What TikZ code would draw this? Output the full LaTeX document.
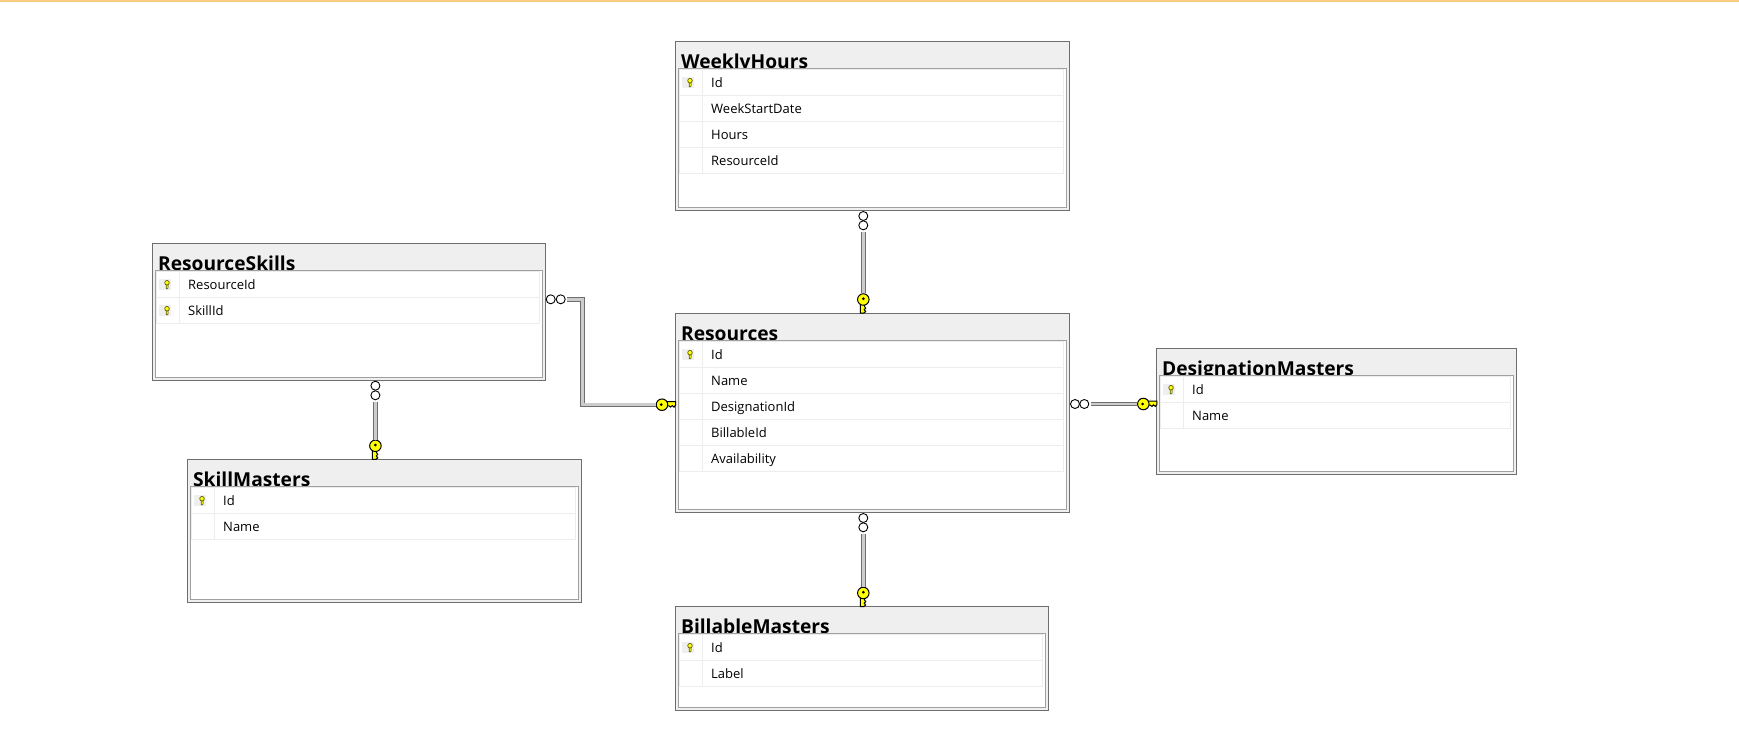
\documentclass[tikz,border=0pt]{standalone}
\usepackage{fontspec}
\setmainfont{Open Sans}
\definecolor{bandcol}{HTML}{F8CC80}
\definecolor{headcol}{HTML}{EFEFEF}
\definecolor{edgecol}{HTML}{6E6E6E}
\definecolor{innercol}{HTML}{A0A0A0}
\definecolor{gridcol}{HTML}{EDEDED}
\definecolor{keycol}{HTML}{FFFF00}
\definecolor{smallcol}{HTML}{5C5C10}
\begin{document}
\begin{tikzpicture}
[
  x=1pt,
  y=-1pt,
  tablebox/.style={draw=edgecol,fill=headcol,line width=1pt,inner sep=0pt,outer sep=0pt},
  innerbox/.style={draw=innercol,fill=white,line width=1pt,inner sep=0pt,outer sep=0pt},
  heading/.style={anchor=base west,inner sep=0pt,font=\fontsize{19.2}{24}\selectfont\bfseries},
  field/.style={anchor=base west,inner sep=0pt,font=\fontsize{13}{15}\selectfont},
  rowline/.style={draw=gridcol,line width=0.8pt},
  rel/.style={draw=edgecol,line width=0.9pt,double=gray!40,double distance=2.6pt},
  crow/.style={draw=black,fill=white,circle,line width=0.9pt,inner sep=0pt,minimum size=9pt},
  downkey/.style={rotate=-90,yscale=-1},
  pics/bigkey/.style={code={
    \draw[fill=keycol,line width=1pt] (3,-3)--(13.5,-3)--(13.5,0.6)--(12,2.4)--(10.2,0.9)--(8.6,2.4)--(7,1.2)--(3,1.2)--cycle;
    \node[circle,draw=black,fill=keycol,line width=1pt,inner sep=0pt,minimum size=11.5pt] (-head) at (0,0) {};
    \fill[black] (-0.8,0) circle (1.5pt);
  }},
  pics/smallkey/.style={code={
    \fill[headcol] (-6,-5.4) rectangle (6,5.4);
    \draw[draw=smallcol,fill=keycol,line width=0.6pt] (1.2,0)--(1.2,4.4)--(2.8,4.4)--(3.2,2.5)--(2.8,0)--cycle;
    \draw[draw=smallcol,fill=keycol,line width=0.7pt] (2,-1.6) circle (2.3pt);
  }}
]

\useasboundingbox (0,0) rectangle (1739,742);

% Top band
\fill[bandcol] (0,0) rectangle (1739,2);

% Tables
\foreach \title/\xa/\ya/\xb/\yb/\rows in {
  WeeklyHours/675.5/41.5/1069.5/210/{Id/1,WeekStartDate/0,Hours/0,ResourceId/0},
  ResourceSkills/152.5/243.5/545.5/380.5/{ResourceId/1,SkillId/1},
  SkillMasters/187.5/459.5/581.5/602.5/{Id/1,Name/0},
  Resources/675.5/313.5/1069.5/512.5/{Id/1,Name/0,DesignationId/0,BillableId/0,Availability/0},
  DesignationMasters/1156.5/348.5/1516.5/474.5/{Id/1,Name/0},
  BillableMasters/675.5/606.5/1048.5/710.5/{Id/1,Label/0}} {
  \pgfmathsetmacro{\wa}{\xb-\xa}
  \pgfmathsetmacro{\ha}{\yb-\ya}
  \node[tablebox,minimum width=\wa pt,minimum height=\ha pt] (\title) at ({(\xa+\xb)/2},{(\ya+\yb)/2}) {};
  \node[heading] (\title-head) at ({\xa+5.4},{\ya+27}) {\title};
  \pgfmathsetmacro{\wb}{\wa-6}
  \pgfmathsetmacro{\hb}{\ha-30}
  \node[innerbox,minimum width=\wb pt,minimum height=\hb pt] (\title-inner) at ({(\xa+\xb)/2},{(\ya+\yb+24)/2}) {};
  % Rows of the table
  \foreach \field/\iskey [count=\i] in \rows {
    \pgfmathsetmacro{\rt}{\ya+27.8+26*(\i-1)}
    \pgfmathsetmacro{\rb}{\rt+26}
    \draw[rowline] ({\xa+4},\rt) rectangle ({\xb-6.5},\rb);
    \draw[rowline] ({\xa+26.8},\rt) -- ({\xa+26.8},\rb);
    \node[field] (\title-row\i) at ({\xa+35.5},{\rt+18}) {\field};
    \ifnum\iskey=1
      \pic at ({\xa+12.5},{\rt+13}) {smallkey};
    \fi
  }
}

% Crow feet
\node[crow] (whc1) at (863.3,216) {};
\node[crow] (whc2) at (863.3,225.3) {};
\node[crow] (rsc1) at (550.7,299.3) {};
\node[crow] (rsc2) at (560.7,299.3) {};
\node[crow] (sc1) at (375.4,385.7) {};
\node[crow] (sc2) at (375.4,395.3) {};
\node[crow] (dc1) at (1075,404) {};
\node[crow] (dc2) at (1084.3,404) {};
\node[crow] (bc1) at (863.3,518) {};
\node[crow] (bc2) at (863.3,527.3) {};

% Keys
\pic[downkey] (wk) at (863.3,299.5) {bigkey};
\pic (rk) at (662,404.7) {bigkey};
\pic[downkey] (sk) at (375.4,445.8) {bigkey};
\pic (dk) at (1143.3,404) {bigkey};
\pic[downkey] (bk) at (863.3,593) {bigkey};

% Relations
\coordinate (rsbend) at (582.3,352);
\draw[rel,shorten <=1.5pt] (whc2) -- (wk-head);
\draw[rel,shorten <=1.5pt] (rsc2) -| (rsbend) |- (rk-head);
\draw[rel,shorten <=1.5pt] (sc2) -- (sk-head);
\draw[rel,shorten <=1.5pt] (dc2) -- (dk-head);
\draw[rel,shorten <=1.5pt] (bc2) -- (bk-head);

\end{tikzpicture}
\end{document}
